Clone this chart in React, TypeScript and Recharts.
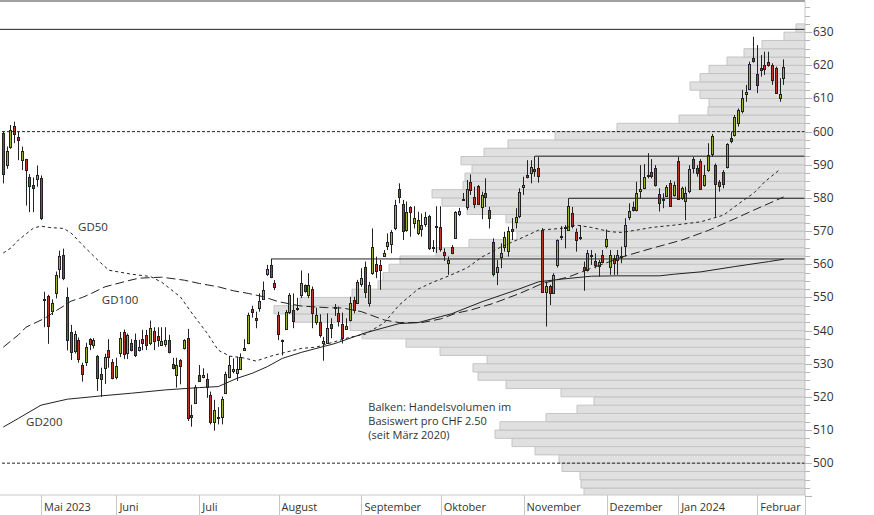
import React from 'react';
import {
  ComposedChart, Bar, Line, XAxis, YAxis, ReferenceLine, ReferenceArea, ReferenceDot,
} from 'recharts';

// daily candles, 17 Apr 2023 .. 9 Feb 2024 (index = trading day)
const opens = [
  599.7, 590.1, 595.5, 601.8, 598.5, 591.6, 591.6, 586.2, 584.0, 585.5, 585.9,
  549.2, 550.5, 545.7, 551.5, 558.5, 562.8, 550.0, 539.6, 534.1, 537.1, 529.5, 530.4, 537.4, 535.6, 532.2,
  526.8, 528.6, 534.1, 530.6, 525.9, 533.2, 539.6, 533.1, 536.2, 537.1, 534.1, 537.4, 538.6, 536.1, 540.0,
  538.4, 535.9, 535.9, 537.2, 529.9, 526.5, 531.1, 534.7, 537.7, 514.6, 518.2, 526.6, 526.1, 525.3, 520.5,
  512.2, 513.9, 514.1, 521.3, 526.1, 527.8, 527.4, 528.4, 534.1, 536.2, 546.4, 543.9, 546.7, 549.7, 556.9,
  559.8, 554.2, 544.7, 537.2, 540.5, 545.5, 546.2, 546.6,
  550.6, 553.6, 550.6, 552.6, 542.4, 542.7, 536.3, 536.3, 541.9, 546.8, 545.3, 541.9, 540.4, 543.4, 549.2,
  548.4, 553.9, 559.1, 548.4, 557.6, 560.1, 559.8, 562.5, 565.3, 566.3, 571.1, 582.6, 578.2, 570.5, 577.2,
  572.3, 569.3, 570.5, 572.3, 574.6, 565.1, 571.1, 571.3, 563.7, 560.3, 565.3, 568.0, 575.0,
  579.4, 577.2, 584.9, 580.2, 583.6, 577.3, 581.4, 576.4, 566.8, 557.5, 562.0, 565.3, 564.1, 570.5, 572.8,
  574.6, 583.2, 586.9, 587.4, 588.7, 588.9, 570.3, 551.5, 553.3, 551.5, 559.8, 568.2, 571.1, 570.5, 575.5,
  569.8, 568.0, 559.3, 558.5, 562.6, 561.1, 559.5, 562.8, 565.5, 559.1, 562.0, 561.2, 562.2, 565.5, 574.2, 577.3,
  576.2, 582.1, 582.9, 586.6, 587.7, 588.9, 581.2, 579.6, 580.6, 584.6, 580.9, 591.1, 579.9, 578.9, 581.9,
  591.7, 589.1, 591.1, 583.9, 588.4, 593.2, 589.9, 584.7, 587.9, 589.2, 598.2, 599.0, 602.5, 606.0, 611.3,
  612.9, 622.2, 617.4, 619.2, 620.1, 621.0, 620.1, 619.1, 610.2, 616.1,
];
const highs = [
  600.0, 595.5, 602.0, 603.0, 600.0, 595.5, 591.8, 587.2, 586.2, 589.8, 586.8,
  551.7, 550.8, 549.4, 557.8, 564.1, 564.7, 553.0, 541.7, 539.9, 537.9, 530.3, 536.3, 537.7, 537.7, 532.6,
  528.8, 533.0, 537.4, 531.4, 531.8, 539.6, 540.3, 539.1, 537.4, 539.1, 537.2, 540.2, 540.2, 543.0, 541.0,
  541.0, 541.0, 541.0, 538.7, 531.8, 531.8, 531.4, 537.4, 540.5, 517.6, 523.6, 529.6, 528.6, 527.1, 521.6,
  519.1, 516.9, 520.1, 527.6, 532.3, 531.6, 532.1, 533.1, 537.4, 545.4, 547.5, 545.7, 551.2, 554.8, 559.8,
  561.6, 555.2, 545.7, 537.3, 546.2, 551.3, 551.2, 549.9,
  558.1, 553.9, 557.3, 553.3, 546.9, 544.9, 538.1, 545.2, 543.7, 548.0, 547.2, 545.4, 543.7, 550.2, 550.2,
  555.3, 558.8, 560.8, 554.7, 570.8, 562.3, 561.3, 564.3, 569.3, 570.3, 579.4, 584.4, 579.4, 578.9, 577.5,
  577.5, 575.8, 575.3, 575.8, 574.9, 567.3, 577.5, 577.5, 564.8, 562.3, 565.8, 576.0, 577.0,
  581.5, 585.4, 587.1, 583.4, 583.9, 581.9, 585.9, 577.3, 567.8, 561.3, 566.3, 569.8, 571.3, 573.9, 576.9,
  582.9, 586.4, 591.4, 591.4, 592.6, 592.4, 570.9, 554.8, 553.8, 557.3, 567.5, 571.5, 571.8, 579.9, 577.3,
  570.8, 571.8, 560.8, 564.3, 564.3, 563.3, 561.3, 564.3, 570.5, 564.3, 562.8, 564.3, 565.3, 573.9, 578.4, 578.9,
  584.9, 589.9, 590.2, 593.5, 591.7, 589.9, 582.9, 581.4, 583.9, 585.4, 584.9, 592.4, 583.4, 583.4, 589.9,
  592.4, 589.9, 591.7, 589.9, 596.5, 599.3, 590.4, 585.4, 588.4, 596.5, 600.0, 605.0, 607.0, 612.6, 614.1,
  621.1, 628.6, 626.1, 623.1, 624.1, 624.1, 620.6, 619.6, 616.1, 621.8,
];
const lows = [
  584.4, 588.8, 594.8, 596.5, 591.4, 588.4, 577.7, 575.7, 575.7, 583.4, 573.3,
  541.0, 536.0, 544.7, 549.7, 555.8, 555.2, 534.0, 531.1, 533.1, 530.3, 524.6, 529.3, 534.1, 534.6, 521.8,
  520.0, 523.9, 528.8, 525.3, 525.3, 532.0, 531.4, 531.4, 533.7, 532.0, 533.7, 534.1, 534.1, 535.6, 534.1,
  535.1, 535.6, 535.1, 533.1, 528.3, 522.8, 523.8, 534.3, 512.7, 511.0, 517.9, 524.6, 525.6, 519.7, 511.7,
  509.8, 511.7, 511.7, 521.1, 525.6, 527.1, 524.8, 528.1, 534.1, 535.9, 543.9, 540.7, 545.7, 549.5, 556.5,
  555.8, 552.2, 537.1, 532.5, 540.2, 545.0, 540.7, 546.0,
  549.8, 551.4, 549.8, 540.7, 541.7, 537.9, 530.9, 536.1, 537.7, 544.4, 541.2, 536.1, 540.2, 542.7, 545.2,
  548.2, 553.2, 549.8, 547.2, 556.8, 555.8, 552.3, 562.3, 564.3, 563.3, 570.3, 578.4, 567.3, 569.8, 568.3,
  570.8, 568.8, 568.3, 571.3, 564.3, 563.7, 563.4, 563.8, 561.0, 556.8, 563.0, 567.8, 574.5,
  579.1, 576.4, 580.9, 576.9, 577.9, 573.6, 577.3, 570.8, 556.3, 553.7, 558.8, 563.8, 562.3, 567.3, 570.8,
  573.9, 580.9, 585.9, 584.4, 586.4, 584.6, 551.6, 541.2, 547.7, 551.3, 559.0, 567.3, 564.8, 570.3, 570.8,
  563.8, 567.3, 552.0, 557.8, 559.8, 558.8, 556.3, 560.3, 564.8, 556.8, 556.8, 556.8, 560.3, 562.3, 573.3, 575.9,
  575.9, 579.9, 582.6, 585.9, 585.9, 583.4, 575.9, 576.9, 580.4, 577.4, 580.4, 579.4, 579.4, 573.3, 581.4,
  587.4, 586.4, 582.4, 583.4, 587.9, 592.4, 574.3, 581.9, 582.9, 588.9, 596.5, 598.5, 601.5, 605.5, 609.0,
  612.6, 620.8, 611.6, 616.6, 617.1, 619.6, 614.1, 611.6, 609.0, 614.1,
];
const closes = [
  587.2, 594.2, 600.5, 599.5, 597.5, 594.2, 588.2, 583.4, 583.0, 586.8, 573.9,
  549.6, 541.4, 548.2, 556.8, 562.5, 555.8, 537.0, 533.7, 539.1, 531.4, 526.8, 535.0, 535.9, 537.2, 525.6,
  525.3, 532.0, 531.9, 525.9, 529.3, 537.7, 533.0, 538.6, 534.1, 532.6, 535.1, 536.2, 535.6, 540.7, 537.0,
  537.2, 537.0, 537.2, 533.7, 528.8, 529.6, 529.3, 537.2, 513.5, 514.1, 522.9, 524.8, 526.6, 522.9, 512.5,
  515.9, 513.5, 519.4, 526.9, 529.6, 528.4, 528.5, 532.1, 534.8, 544.7, 545.5, 543.4, 548.9, 552.3, 558.5,
  556.1, 553.0, 539.1, 537.0, 545.7, 550.6, 542.9, 546.9,
  554.3, 551.9, 553.6, 545.4, 544.6, 538.9, 536.9, 540.7, 540.7, 547.1, 542.9, 537.7, 541.4, 548.4, 546.2,
  554.6, 555.8, 551.5, 553.7, 565.3, 558.1, 558.3, 563.3, 566.6, 569.8, 577.9, 580.2, 570.0, 575.9, 575.8,
  573.8, 573.3, 571.8, 574.3, 564.8, 565.3, 571.4, 564.6, 562.8, 561.2, 563.5, 575.8, 576.0,
  579.8, 582.6, 582.4, 578.2, 578.2, 580.9, 580.2, 574.0, 557.0, 559.1, 563.3, 568.3, 570.1, 569.8, 574.3,
  581.9, 583.9, 586.4, 589.2, 588.1, 586.4, 551.7, 553.3, 551.3, 556.8, 567.3, 568.4, 571.2, 577.6, 571.5,
  567.5, 568.2, 558.3, 563.5, 562.8, 559.8, 560.8, 560.8, 567.5, 562.8, 560.5, 562.8, 562.4, 571.8, 576.1, 576.4,
  581.4, 582.7, 586.2, 586.8, 586.4, 583.9, 578.4, 579.8, 583.2, 577.7, 583.9, 579.6, 582.9, 581.4, 588.6,
  588.9, 587.6, 582.6, 586.9, 592.9, 598.7, 584.2, 583.6, 584.2, 596.2, 597.3, 604.3, 606.5, 610.0, 612.0,
  620.4, 621.4, 614.1, 618.6, 618.9, 620.2, 615.6, 611.7, 611.4, 619.4,
];

const gd50Days = [0, 2, 4, 8, 10, 12, 16, 18, 21, 25, 28, 34, 39, 42, 47, 50, 54, 57, 60, 64, 67, 71, 74, 79, 83, 92, 96, 101, 105, 110, 114, 118, 123, 127, 132, 138, 142, 148, 152, 156, 161, 164, 168, 172, 178, 185, 191, 195, 199, 202, 206];
const gd50Values = [563.4, 564.9, 567.3, 570.9, 571.5, 571.1, 570.8, 569.4, 565.8, 561.3, 558.2, 557.0, 556.3, 554.6, 550.1, 545.3, 539.3, 534.1, 532.3, 531.7, 530.8, 532.3, 533.2, 534.6, 535.0, 538.0, 538.9, 542.3, 547.7, 552.5, 554.6, 556.4, 558.9, 562.2, 565.2, 568.2, 570.3, 570.8, 571.8, 571.1, 569.8, 569.6, 570.3, 571.1, 571.8, 572.8, 574.8, 578.2, 581.4, 584.9, 588.6];
const gd100Days = [0, 4, 6, 11, 14, 16, 18, 21, 23, 27, 33, 36, 42, 48, 52, 57, 61, 65, 69, 73, 79, 86, 90, 95, 101, 105, 111, 116, 120, 124, 130, 137, 143, 150, 156, 165, 172, 180, 187, 194, 199, 207];
const gd100Values = [535.0, 538.7, 541.0, 543.7, 546.0, 547.4, 548.9, 550.0, 551.0, 553.2, 555.0, 555.8, 556.1, 555.2, 554.2, 553.2, 552.0, 551.2, 550.2, 548.7, 547.4, 546.9, 546.8, 545.7, 543.2, 542.4, 542.4, 543.5, 545.2, 546.2, 548.2, 551.2, 554.2, 556.2, 558.8, 562.5, 564.8, 567.3, 570.2, 573.7, 576.3, 580.3];
const gd200Days = [0, 4, 10, 17, 26, 34, 43, 52, 57, 62, 66, 70, 74, 79, 88, 96, 105, 110, 116, 119, 127, 136, 142, 148, 156, 163, 174, 178, 185, 194, 203, 207];
const gd200Values = [510.9, 513.5, 517.5, 519.3, 520.3, 521.1, 522.1, 522.8, 523.1, 525.6, 527.1, 529.1, 531.6, 533.4, 536.1, 539.3, 542.1, 542.4, 544.2, 545.1, 548.7, 552.2, 554.7, 555.5, 556.4, 556.5, 556.5, 557.0, 557.7, 559.3, 560.8, 561.5];

// volume profile per CHF 2.50 bucket (relative units)
const volumeBuckets = [
  490, 492.5, 495, 497.5, 500, 502.5, 505, 507.5, 510, 512.5, 515, 517.5, 520, 522.5, 525, 527.5, 530, 532.5,
  535, 537.5, 540, 542.5, 545, 547.5, 550, 552.5, 555, 557.5, 560, 562.5, 565, 567.5, 570, 572.5, 575, 577.5,
  580, 582.5, 585, 587.5, 590, 592.5, 595, 597.5, 600, 602.5, 605, 607.5, 610, 612.5, 615, 617.5, 620, 622.5,
  625, 627.5, 630,
];
const volumes = [
  221, 224, 225, 243, 246, 270, 293, 310, 305, 259, 228, 211, 244, 299, 327, 332, 318, 365,
  399, 443, 455, 512, 531, 505, 453, 427, 422, 416, 405, 369, 336, 288, 291, 299, 338, 363,
  373, 342, 340, 333, 344, 321, 297, 250, 188, 126, 97, 96, 105, 115, 105, 96, 78, 61,
  43, 21, 9,
];
const BUCKET = 2.5;
const VOL_SPAN = 805;

// support / resistance levels: [start day, price]
const levelDays = [71, 141, 150];
const levelPrices = [561.6, 592.6, 579.9];

const monthDays = [10, 30, 52, 73, 95, 116, 138, 160, 179, 200];
const monthLabels = ['Mai 2023', 'Juni', 'Juli', 'August', 'September', 'Oktober', 'November', 'Dezember', 'Jan 2024', 'Februar'];

const yTicks = [
  490, 492.5, 495, 497.5, 500, 502.5, 505, 507.5, 510, 512.5, 515, 517.5, 520, 522.5, 525, 527.5, 530, 532.5,
  535, 537.5, 540, 542.5, 545, 547.5, 550, 552.5, 555, 557.5, 560, 562.5, 565, 567.5, 570, 572.5, 575, 577.5,
  580, 582.5, 585, 587.5, 590, 592.5, 595, 597.5, 600, 602.5, 605, 607.5, 610, 612.5, 615, 617.5, 620, 622.5,
  625, 627.5, 630, 632.5, 635, 637.5,
];
const yLabelMin = 500;

const noteLines = ['Balken: Handelsvolumen im', 'Basiswert pro CHF 2.50', '(seit März 2020)'];

const X_MIN = -0.88;
const X_MAX = 212.65;
const Y_MIN = 490.4;
const Y_MAX = 639.4;

const GREEN = '#9ab526';
const RED = '#bd3526';
const INK = '#222';
const TEXT = '#333';
const FONT = '"Open Sans", "Noto Sans", sans-serif';

const rows: any[] = opens.map((open, i) => ({
  i, open, high: highs[i], low: lows[i], close: closes[i],
}));
gd50Days.forEach((d, k) => { rows[d].gd50 = gd50Values[k]; });
gd100Days.forEach((d, k) => { rows[d].gd100 = gd100Values[k]; });
gd200Days.forEach((d, k) => { rows[d].gd200 = gd200Values[k]; });

function Candle(props: any) {
  const { x, y, width, height, payload } = props;
  if (!payload) return null;
  const { open, close, high, low } = payload;
  const h = Math.abs(height);
  const top = height < 0 ? y + height : y;
  const ppu = high > low ? h / (high - low) : 0;
  const yo = top + (high - open) * ppu;
  const yc = top + (high - close) * ppu;
  const cx = Math.round(x + width / 2) + 0.5;
  const bodyTop = Math.round(Math.min(yo, yc)) + 0.5;
  const bodyH = Math.max(Math.round(Math.abs(yo - yc)), 1);
  return (
    <g>
      <line x1={cx} x2={cx} y1={top} y2={top + h} stroke={INK} strokeWidth={1} />
      <rect x={cx - 1} y={bodyTop} width={2} height={bodyH}
        fill={close >= open ? GREEN : RED} stroke={INK} strokeWidth={1} />
    </g>
  );
}

function MonthTick({ x, y, payload }: any) {
  const k = monthDays.indexOf(payload.value);
  const lx = Math.round(x) + 0.5;
  return (
    <g>
      <line x1={lx} x2={lx} y1={y} y2={y + 20} stroke="#c8c8c8" />
      {k >= 0 && (
        <text x={x + 3} y={y + 16} fontSize={11} fill={TEXT} fontFamily={FONT}>{monthLabels[k]}</text>
      )}
    </g>
  );
}

function PriceTick({ x, y, payload }: any) {
  const v = payload.value;
  const major = v % 10 === 0;
  const ly = Math.round(y) + 0.5;
  return (
    <g>
      <line x1={x} x2={x + (major ? 7 : 5)} y1={ly} y2={ly} stroke="#b4b4b4" />
      {major && v >= yLabelMin && (
        <text x={x + 8} y={y + 4} fontSize={12} fill={TEXT} fontFamily={FONT}>{v}</text>
      )}
    </g>
  );
}

function NoteLabel({ viewBox }: any) {
  const x = viewBox.x + 5;
  const y = viewBox.y;
  return (
    <text x={x} y={y + 4} fontSize={11} fill={TEXT} fontFamily={FONT}>
      {noteLines.map((t, k) => (
        <tspan key={k} x={x} dy={k === 0 ? 0 : 14}>{t}</tspan>
      ))}
    </text>
  );
}

const labelStyle = { fill: TEXT, fontSize: 11.5, fontFamily: FONT };

export default function App() {
  return (
    <div style={{ position: 'absolute', left: 0, top: 0, width: 874, height: 515, background: '#fff', fontFamily: FONT }}>
      <ComposedChart width={874} height={515} data={rows} margin={{ top: 1, right: 0, bottom: 0, left: 0 }}>
        <XAxis
          dataKey="i"
          type="number"
          domain={[X_MIN, X_MAX]}
          allowDataOverflow
          ticks={[...monthDays, X_MAX]}
          interval={0}
          tick={<MonthTick />}
          tickLine={false}
          tickSize={0}
          tickMargin={0}
          axisLine={{ stroke: '#c8c8c8' }}
          height={20}
        />
        <XAxis xAxisId="vol" dataKey="i" type="number" domain={[0, VOL_SPAN]} reversed hide allowDataOverflow />
        <YAxis
          orientation="right"
          type="number"
          domain={[Y_MIN, Y_MAX]}
          allowDataOverflow
          ticks={yTicks}
          interval={0}
          tick={<PriceTick />}
          tickLine={false}
          tickSize={0}
          tickMargin={0}
          axisLine={{ stroke: '#c8c8c8' }}
          width={69}
        />

        {volumeBuckets.map((b, k) => (
          <ReferenceArea
            key={b}
            xAxisId="vol"
            x1={0}
            x2={volumes[k]}
            y1={b}
            y2={b + BUCKET}
            fill="#e0e0e0"
            fillOpacity={1}
            stroke="#c4c4c4"
            strokeWidth={1}
            ifOverflow="hidden"
          />
        ))}

        <ReferenceLine y={Y_MAX} stroke="#444" />
        <ReferenceLine y={630.85} stroke={INK} />
        <ReferenceLine y={600} stroke={INK} strokeDasharray="3 2" />
        <ReferenceLine y={500} stroke={INK} strokeDasharray="3 2" />
        {levelDays.map((d, k) => (
          <ReferenceLine
            key={d}
            segment={[{ x: d, y: levelPrices[k] }, { x: X_MAX, y: levelPrices[k] }]}
            stroke={INK}
          />
        ))}

        <Line dataKey="gd200" stroke={INK} strokeWidth={1} dot={false} activeDot={false} connectNulls isAnimationActive={false} />
        <Line dataKey="gd100" stroke={INK} strokeWidth={1} strokeDasharray="9 4" dot={false} activeDot={false} connectNulls isAnimationActive={false} />
        <Line dataKey="gd50" stroke={INK} strokeWidth={1} strokeDasharray="3 3" dot={false} activeDot={false} connectNulls isAnimationActive={false} />

        <Bar dataKey={(d: any) => [d.low, d.high]} shape={<Candle />} barSize={3} isAnimationActive={false} />

        <ReferenceDot x={18.5} y={571.2} r={0} fill="none" stroke="none" label={{ value: 'GD50', position: 'right', ...labelStyle }} />
        <ReferenceDot x={24.8} y={549.2} r={0} fill="none" stroke="none" label={{ value: 'GD100', position: 'right', ...labelStyle }} />
        <ReferenceDot x={4.7} y={512.4} r={0} fill="none" stroke="none" label={{ value: 'GD200', position: 'right', ...labelStyle }} />
        <ReferenceDot x={95.5} y={516.95} r={0} fill="none" stroke="none" label={<NoteLabel />} />
      </ComposedChart>
    </div>
  );
}
